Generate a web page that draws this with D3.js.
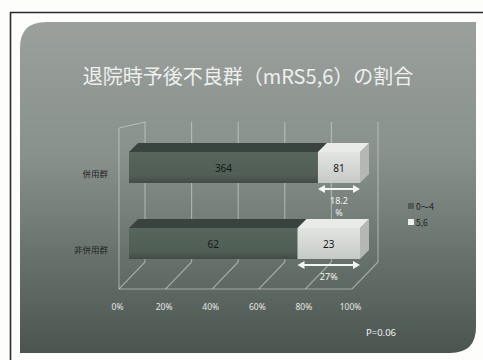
<!DOCTYPE html>
<html>
<head>
<meta charset="utf-8">
<script src="https://cdn.jsdelivr.net/npm/d3@7"></script>
<style>
  html, body { margin: 0; padding: 0; background: #fff; }
  svg { display: block; }
</style>
</head>
<body>
<svg id="chart" width="483" height="360"></svg>
<script>
// ---- data ----
const categories = ["併用群", "非併用群"];
const seriesNames = ["0～4", "5,6"];
const goodOutcome = [364, 62];   // mRS 0-4
const poorOutcome = [81, 23];    // mRS 5,6
const poorShareLabels = [["18.2", "%"], ["27%"]];
const tickValues = [0, 0.2, 0.4, 0.6, 0.8, 1];
const tickLabels = ["0%", "20%", "40%", "60%", "80%", "100%"];
const titleText = "退院時予後不良群（mRS5,6）の割合";
const pValueText = "P=0.06";

// ---- layout ----
const W = 483, H = 360;
const svg = d3.select("#chart");
const defs = svg.append("defs");
const FONT = "'Noto Sans CJK JP', 'Noto Sans', sans-serif";
const NUM_FONT = "'Noto Sans', 'DejaVu Sans', sans-serif";

// slide frame
svg.append("rect").attr("width", W).attr("height", H).attr("fill", "#fdfdfc");
svg.append("line").attr("x1", 10).attr("y1", 12.5).attr("x2", W).attr("y2", 12.5)
  .attr("stroke", "#2a2a2a").attr("stroke-width", 1.6);
svg.append("line").attr("x1", 10.5).attr("y1", 12).attr("x2", 10.5).attr("y2", H)
  .attr("stroke", "#2a2a2a").attr("stroke-width", 1.6);

// panel gradient
const bg = defs.append("linearGradient").attr("id", "bg")
  .attr("x1", 0).attr("y1", 0).attr("x2", 0).attr("y2", 1);
bg.append("stop").attr("offset", "0%").attr("stop-color", "#9ba09d");
bg.append("stop").attr("offset", "40%").attr("stop-color", "#88918c");
bg.append("stop").attr("offset", "100%").attr("stop-color", "#4a554f");

const pL = 20, pT = 22, pR = 476, pB = 353, r1 = 26, r2 = 26;
svg.append("path")
  .attr("d", `M${pL},${pT + r1} Q${pL},${pT} ${pL + r1},${pT} L${pR},${pT} L${pR},${pB - r2}
              Q${pR},${pB} ${pR - r2},${pB} L${pL},${pB} Z`)
  .attr("fill", "url(#bg)");

// title
svg.append("text")
  .attr("x", 248).attr("y", 75)
  .attr("text-anchor", "middle").attr("dominant-baseline", "central")
  .attr("font-family", FONT).attr("font-size", 20)
  .attr("fill", "#eef0ee")
  .text(titleText);

// ---- scales ----
const xBar = d3.scaleLinear().domain([0, 1]).range([129, 360]);     // bar front plane
const xFloor = d3.scaleLinear().domain([0, 1]).range([119, 352]);   // floor front edge
const depthX = 26, depthY = 27;                                      // wall depth offset
const floorY = 289, wallTop = 122;
const y = d3.scaleBand().domain(categories).range([129.5, 281.5])
  .paddingInner(0.592).paddingOuter(0.296);
const barDepth = 9;

// ---- walls / gridlines ----
const gridColor = "rgba(225,232,226,0.5)";
const grid = svg.append("g").attr("stroke", gridColor).attr("stroke-width", 1.1).attr("fill", "none");
// back wall verticals
grid.selectAll("line.back").data(tickValues).join("line")
  .attr("x1", d => xFloor(d) + depthX).attr("x2", d => xFloor(d) + depthX)
  .attr("y1", wallTop).attr("y2", floorY - depthY);
// floor diagonals
grid.selectAll("line.floor").data(tickValues).join("line")
  .attr("x1", d => xFloor(d)).attr("y1", floorY)
  .attr("x2", d => xFloor(d) + depthX).attr("y2", floorY - depthY);
// floor front edge and left wall front edge
grid.append("line").attr("x1", xFloor(0)).attr("x2", xFloor(1)).attr("y1", floorY).attr("y2", floorY);
grid.append("line").attr("x1", xFloor(0)).attr("x2", xFloor(0)).attr("y1", wallTop + 6).attr("y2", floorY);
grid.append("line").attr("x1", xFloor(0)).attr("y1", wallTop + 6)
  .attr("x2", xFloor(0) + depthX).attr("y2", wallTop);

// ---- bars ----
const darkFront = defs.append("linearGradient").attr("id", "darkFront")
  .attr("x1", 0).attr("y1", 0).attr("x2", 0).attr("y2", 1);
darkFront.append("stop").attr("offset", "0%").attr("stop-color", "#58655d");
darkFront.append("stop").attr("offset", "75%").attr("stop-color", "#515e56");
darkFront.append("stop").attr("offset", "100%").attr("stop-color", "#424c46");
const lightFront = defs.append("linearGradient").attr("id", "lightFront")
  .attr("x1", 0).attr("y1", 0).attr("x2", 0).attr("y2", 1);
lightFront.append("stop").attr("offset", "0%").attr("stop-color", "#e2e4e1");
lightFront.append("stop").attr("offset", "100%").attr("stop-color", "#c6cac6");

const palette = [
  { front: "url(#darkFront)", top: "#3a443e", side: "#363f39" },
  { front: "url(#lightFront)", top: "#e9ebe8", side: "#b3b8b4" }
];

const rows = categories.map((c, i) => {
  const total = goodOutcome[i] + poorOutcome[i];
  const vals = [goodOutcome[i], poorOutcome[i]];
  let cum = 0;
  const segs = vals.map((v, s) => {
    const seg = { cat: c, s, value: v, x0: cum / total, x1: (cum + v) / total };
    cum += v;
    return seg;
  });
  return { cat: c, segs, i };
});

const barsG = svg.append("g");
rows.forEach(row => {
  const y0 = y(row.cat), h = y.bandwidth(), d = barDepth;
  row.segs.forEach(seg => {
    const a = xBar(seg.x0), b = xBar(seg.x1), p = palette[seg.s];
    const g = barsG.append("g");
    // right side
    g.append("path")
      .attr("d", `M${b},${y0} L${b + d},${y0 - d} L${b + d},${y0 + h - d} L${b},${y0 + h} Z`)
      .attr("fill", p.side);
    // top face
    g.append("path")
      .attr("d", `M${a},${y0} L${a + d},${y0 - d} L${b + d},${y0 - d} L${b},${y0} Z`)
      .attr("fill", p.top);
    // front face
    g.append("rect").attr("x", a).attr("y", y0).attr("width", b - a).attr("height", h)
      .attr("fill", p.front);
    // value label
    g.append("text")
      .attr("x", (a + b) / 2).attr("y", y0 + h / 2)
      .attr("text-anchor", "middle").attr("dominant-baseline", "central")
      .attr("font-family", NUM_FONT).attr("font-size", 10)
      .attr("fill", "#151816")
      .text(seg.value);
  });
});

// ---- share arrows for the mRS 5,6 segment ----
const annG = svg.append("g");
rows.forEach(row => {
  const seg = row.segs[1];
  const a = xBar(seg.x0), b = xBar(seg.x1);
  const ay = y(row.cat) + y.bandwidth() + 6;
  annG.append("line").attr("x1", a + 4).attr("x2", b - 4).attr("y1", ay).attr("y2", ay)
    .attr("stroke", "#f4f6f4").attr("stroke-width", 2);
  annG.append("path").attr("d", `M${a},${ay} L${a + 7},${ay - 4} L${a + 7},${ay + 4} Z`).attr("fill", "#f4f6f4");
  annG.append("path").attr("d", `M${b},${ay} L${b - 7},${ay - 4} L${b - 7},${ay + 4} Z`).attr("fill", "#f4f6f4");
  poorShareLabels[row.i].forEach((line, k) => {
    annG.append("text")
      .attr("x", (a + b) / 2).attr("y", ay + 11 + k * 12.5)
      .attr("text-anchor", "middle").attr("dominant-baseline", "central")
      .attr("font-family", NUM_FONT).attr("font-size", 9).attr("fill", "#f2f4f2")
      .text(line);
  });
});

// ---- category labels ----
svg.append("g").selectAll("text").data(categories).join("text")
  .attr("x", 108).attr("y", d => y(d) + y.bandwidth() / 2 + 5)
  .attr("text-anchor", "end").attr("dominant-baseline", "central")
  .attr("font-family", FONT).attr("font-size", 8.5).attr("fill", "#1e2220")
  .text(d => d);

// ---- value axis ----
const axis = d3.axisBottom(xFloor).tickValues(tickValues)
  .tickFormat((d, i) => tickLabels[i]).tickSize(0).tickPadding(7);
const axG = svg.append("g").attr("transform", `translate(-2,${floorY + 8})`).call(axis);
axG.select(".domain").remove();
axG.selectAll("text").attr("font-family", NUM_FONT).attr("font-size", 8.5).attr("fill", "#e4e8e4");

// ---- legend ----
const leg = svg.append("g").attr("transform", "translate(408,206)");
seriesNames.forEach((name, k) => {
  const ly = k * 16;
  leg.append("rect").attr("x", 0).attr("y", ly - 3).attr("width", 6).attr("height", 6)
    .attr("fill", k === 0 ? "#515e56" : "#eef0ed");
  leg.append("text").attr("x", 8).attr("y", ly).attr("dominant-baseline", "central")
    .attr("font-family", FONT).attr("font-size", 8.5).attr("fill", "#1e2220")
    .text(name);
});

// ---- p value ----
svg.append("text").attr("x", 366).attr("y", 332).attr("dominant-baseline", "central")
  .attr("font-family", NUM_FONT).attr("font-size", 9.5).attr("fill", "#f0f2f0")
  .text(pValueText);
</script>
</body>
</html>
